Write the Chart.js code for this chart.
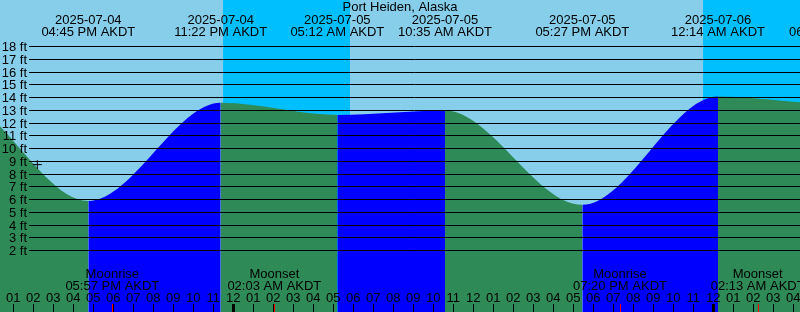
<!DOCTYPE html>
<html>
<head>
<meta charset="utf-8">
<script src="https://cdn.jsdelivr.net/npm/chart.js@4.4.0/dist/chart.umd.min.js"></script>
<style>
  html, body { margin: 0; padding: 0; background: #87ceeb; }
  #wrap { width: 800px; height: 312px; }
</style>
</head>
<body>
<div id="wrap"><canvas id="tide" width="800" height="312"></canvas></div>
<script>
// all times are hours counted from 2025-07-04 00:00 AKDT
// tide highs and lows; first two and last one lie outside the window (estimated)
const tideHours = [3.6, 9.93, 16.75, 23.367, 29.2, 34.583, 41.45, 48.233, 54.133, 60.5]
const tideFeet = [12.2, 14.1, 5.9, 13.6, 12.65, 13.0, 5.6, 14.1, 13.5, 14.5]

const eventHours = [16.75, 23.367, 29.2, 34.583, 41.45, 48.233, 54.133]
const eventDates = ['2025-07-04', '2025-07-04', '2025-07-05', '2025-07-05', '2025-07-05', '2025-07-06', '2025-07-06']
const eventTimes = ['04:45 PM AKDT', '11:22 PM AKDT', '05:12 AM AKDT', '10:35 AM AKDT', '05:27 PM AKDT', '12:14 AM AKDT', '06:08 AM AKDT']

const moonHours = [17.95, 26.05, 43.333, 50.217]
const moonNames = ['Moonrise', 'Moonset', 'Moonrise', 'Moonset']
const moonTimes = ['05:57 PM AKDT', '02:03 AM AKDT', '07:20 PM AKDT', '02:13 AM AKDT']

const nightStart = [23.483, 47.483]
const nightEnd = [29.833, 53.8]

const nowHour = [14.2]
const nowFeet = [8.75]

const feetTicks = [2, 3, 4, 5, 6, 7, 8, 9, 10, 11, 12, 13, 14, 15, 16, 17, 18]

const floodColor = '#0000ff'
const ebbColor = '#2e8b57'
const font = '13px "Liberation Sans", Arial, sans-serif'

const skyPlugin = {
  id: 'sky',
  beforeDraw(chart) {
    const { ctx, scales: { x } } = chart
    ctx.save()
    ctx.fillStyle = '#87ceeb'
    ctx.fillRect(0, 0, chart.width, chart.height)
    ctx.fillStyle = '#00bfff'
    nightStart.forEach((s, i) => {
      const x0 = Math.round(x.getPixelForValue(s))
      const x1 = Math.round(x.getPixelForValue(nightEnd[i]))
      ctx.fillRect(x0, 0, x1 - x0, chart.height)
    })
    ctx.restore()
  }
}

const labelPlugin = {
  id: 'labels',
  afterDatasetsDraw(chart) {
    const { ctx, scales: { x, y } } = chart
    const W = chart.width
    ctx.save()
    ctx.font = font
    ctx.fillStyle = '#000'
    ctx.strokeStyle = '#000'
    ctx.lineWidth = 1

    // depth lines and their labels
    feetTicks.forEach(f => {
      const py = Math.floor(y.getPixelForValue(f)) + 0.5
      ctx.beginPath()
      ctx.moveTo(29, py)
      ctx.lineTo(W, py)
      ctx.stroke()
      ctx.textAlign = 'right'
      ctx.textBaseline = 'middle'
      ctx.fillText(f + ' ft', 27, py + 0.5)
    })

    ctx.textBaseline = 'alphabetic'
    ctx.textAlign = 'center'
    ctx.fillText('Port Heiden, Alaska', W / 2, 11)

    eventHours.forEach((h, i) => {
      const px = x.getPixelForValue(h)
      ctx.fillText(eventDates[i], px, 23.5)
      ctx.fillText(eventTimes[i], px, 36)
    })

    moonHours.forEach((h, i) => {
      const px = x.getPixelForValue(h)
      ctx.fillText(moonNames[i], px, 277.5)
      ctx.fillText(moonTimes[i], px, 290)
    })

    // hour ticks along the bottom
    for (let h = Math.ceil(x.min); h <= x.max; h++) {
      const px = x.getPixelForValue(h)
      const hr = (h % 12) || 12
      ctx.fillText(String(hr).padStart(2, '0'), px, 302)
      if (h % 24 === 0) {
        ctx.fillRect(Math.round(px) - 1, 304, 3, 8)
      } else {
        ctx.fillRect(Math.round(px), 304, 1, 8)
      }
    }

    ctx.fillStyle = '#ff0000'
    moonHours.forEach(h => {
      ctx.fillRect(Math.round(x.getPixelForValue(h)), 304, 1, 8)
    })
    ctx.restore()
  }
}

new Chart(document.getElementById('tide'), {
  type: 'line',
  data: {
    datasets: [
      {
        data: nowHour.map((h, i) => ({ x: h, y: nowFeet[i] })),
        showLine: false,
        fill: false,
        pointStyle: 'cross',
        pointRadius: 4.5,
        borderColor: '#000',
        borderWidth: 1,
        order: 0
      },
      {
        data: tideHours.map((h, i) => ({ x: h, y: tideFeet[i] })),
        fill: 'start',
        backgroundColor: ebbColor,
        borderColor: 'rgba(0,0,0,0)',
        borderWidth: 0,
        pointRadius: 0,
        cubicInterpolationMode: 'monotone',
        segment: {
          backgroundColor: c => c.p1.parsed.y > c.p0.parsed.y ? floodColor : ebbColor
        },
        order: 1
      }
    ]
  },
  options: {
    responsive: false,
    animation: false,
    layout: { padding: 0, autoPadding: false },
    plugins: {
      legend: { display: false },
      tooltip: { enabled: false }
    },
    scales: {
      x: { type: 'linear', min: 12.333, max: 52.333, display: false },
      y: { type: 'linear', min: -2.808, max: 21.663, display: false }
    }
  },
  plugins: [skyPlugin, labelPlugin]
})
</script>
</body>
</html>
